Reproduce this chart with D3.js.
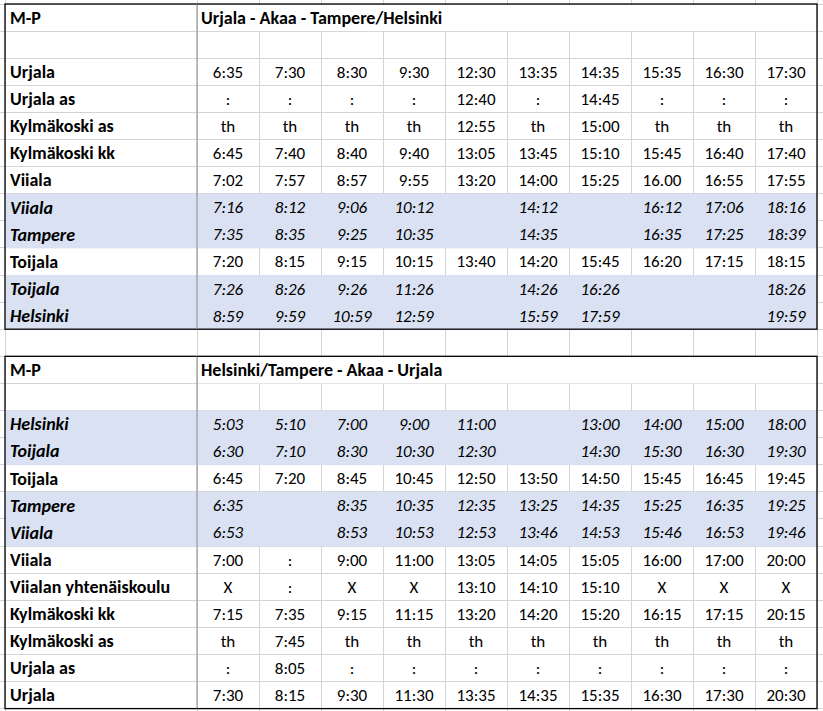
<!DOCTYPE html>
<html><head><meta charset="utf-8">
<script src="https://cdn.jsdelivr.net/npm/d3@7"></script>
<style>body{margin:0;background:#fff}</style>
</head><body><svg id="c" width="823" height="711"></svg>
<script>
// top table: Urjala -> Tampere/Helsinki
const title1 = "Urjala - Akaa - Tampere/Helsinki";
const stops1 = ["Urjala","Urjala as","Kylmäkoski as","Kylmäkoski kk","Viiala","Viiala","Tampere","Toijala","Toijala","Helsinki"];
const shaded1 = [false,false,false,false,false,true,true,false,true,true];
const times1 = [
  ["6:35","7:30","8:30","9:30","12:30","13:35","14:35","15:35","16:30","17:30"],
  [":",":",":",":","12:40",":","14:45",":",":",":"],
  ["th","th","th","th","12:55","th","15:00","th","th","th"],
  ["6:45","7:40","8:40","9:40","13:05","13:45","15:10","15:45","16:40","17:40"],
  ["7:02","7:57","8:57","9:55","13:20","14:00","15:25","16.00","16:55","17:55"],
  ["7:16","8:12","9:06","10:12","","14:12","","16:12","17:06","18:16"],
  ["7:35","8:35","9:25","10:35","","14:35","","16:35","17:25","18:39"],
  ["7:20","8:15","9:15","10:15","13:40","14:20","15:45","16:20","17:15","18:15"],
  ["7:26","8:26","9:26","11:26","","14:26","16:26","","","18:26"],
  ["8:59","9:59","10:59","12:59","","15:59","17:59","","","19:59"]
];
// bottom table: Tampere/Helsinki -> Urjala
const title2 = "Helsinki/Tampere - Akaa - Urjala";
const stops2 = ["Helsinki","Toijala","Toijala","Tampere","Viiala","Viiala","Viialan yhtenäiskoulu","Kylmäkoski kk","Kylmäkoski as","Urjala as","Urjala"];
const shaded2 = [true,true,false,true,true,false,false,false,false,false,false];
const times2 = [
  ["5:03","5:10","7:00","9:00","11:00","","13:00","14:00","15:00","18:00"],
  ["6:30","7:10","8:30","10:30","12:30","","14:30","15:30","16:30","19:30"],
  ["6:45","7:20","8:45","10:45","12:50","13:50","14:50","15:45","16:45","19:45"],
  ["6:35","","8:35","10:35","12:35","13:25","14:35","15:25","16:35","19:25"],
  ["6:53","","8:53","10:53","12:53","13:46","14:53","15:46","16:53","19:46"],
  ["7:00",":","9:00","11:00","13:05","14:05","15:05","16:00","17:00","20:00"],
  ["X",":","X","X","13:10","14:10","15:10","X","X","X"],
  ["7:15","7:35","9:15","11:15","13:20","14:20","15:20","16:15","17:15","20:15"],
  ["th","7:45","th","th","th","th","th","th","th","th"],
  [":","8:05",":",":",":",":",":",":",":",":"],
  ["7:30","8:15","9:30","11:30","13:35","14:35","15:35","16:30","17:30","20:30"]
];

const svg = d3.select("#c");
const font = "Carlito, 'Open Sans', 'Liberation Sans', sans-serif";
const x0 = 5, xSplit = 197, x1 = 817;
const col = d3.scaleBand().domain(d3.range(10)).range([xSplit, x1]);
const rowH = 27.1;
const fill = "#d9e1f2", grid = "#d4d4d4";

// background gridlines of the sheet
const totalRows = 27;
const yAll = d3.scaleLinear().domain([0, totalRows]).range([4, 4 + totalRows * rowH]);
const gl = svg.append("g").attr("stroke", grid).attr("shape-rendering", "crispEdges");
gl.selectAll("line.h").data(d3.range(totalRows + 1)).join("line")
  .attr("x1", 0).attr("x2", 823).attr("y1", d => yAll(d)).attr("y2", d => yAll(d));
gl.selectAll("line.v").data([x0, xSplit, ...d3.range(11).map(i => i < 10 ? col(i) : x1)]).join("line")
  .attr("x1", d => d).attr("x2", d => d).attr("y1", 0).attr("y2", 711);

function drawTable(top, title, stops, shaded, times) {
  const n = stops.length + 2;
  const y = d3.scaleLinear().domain([0, n]).range([top, top + n * rowH]);
  const g = svg.append("g").attr("font-family", font).attr("font-size", 18).attr("fill", "#000");
  // white cover for header-row title span
  g.append("rect").attr("x", xSplit + 1).attr("y", y(0) + 1).attr("width", x1 - xSplit - 2).attr("height", rowH - 1).attr("fill", "#fff");
  // shading
  g.selectAll("rect.s").data(stops.map((s, i) => i).filter(i => shaded[i])).join("rect")
    .attr("x", x0).attr("width", x1 - x0).attr("y", i => y(i + 2)).attr("height", rowH + 0.5).attr("fill", fill);
  // borders
  g.append("rect").attr("x", x0).attr("y", y(0)).attr("width", x1 - x0).attr("height", n * rowH)
    .attr("fill", "none").attr("stroke", "#000").attr("stroke-width", 1.3);
  g.append("line").attr("x1", xSplit).attr("x2", xSplit).attr("y1", y(0)).attr("y2", y(n))
    .attr("stroke", "#888").attr("stroke-width", 1);
  g.append("text").attr("x", 10).attr("y", y(0.5)).attr("dy", "0.35em").attr("font-weight", "bold").text("M-P");
  g.append("text").attr("x", xSplit + 4).attr("y", y(0.5)).attr("dy", "0.35em").attr("font-weight", "bold").text(title);
  stops.forEach((s, i) => {
    const yy = y(i + 2.5);
    g.append("text").attr("x", 10).attr("y", yy).attr("dy", "0.35em").attr("font-weight", "bold")
      .attr("font-style", shaded[i] ? "italic" : null).text(s);
    g.selectAll(null).data(times[i]).join("text")
      .attr("x", (d, j) => col(j) + col.bandwidth() / 2).attr("y", yy).attr("dy", "0.35em")
      .attr("text-anchor", "middle").attr("font-size", 17)
      .attr("font-style", shaded[i] ? "italic" : null).text(d => d);
  });
}
drawTable(yAll(0), title1, stops1, shaded1, times1);
drawTable(yAll(13), title2, stops2, shaded2, times2);
</script></body></html>
